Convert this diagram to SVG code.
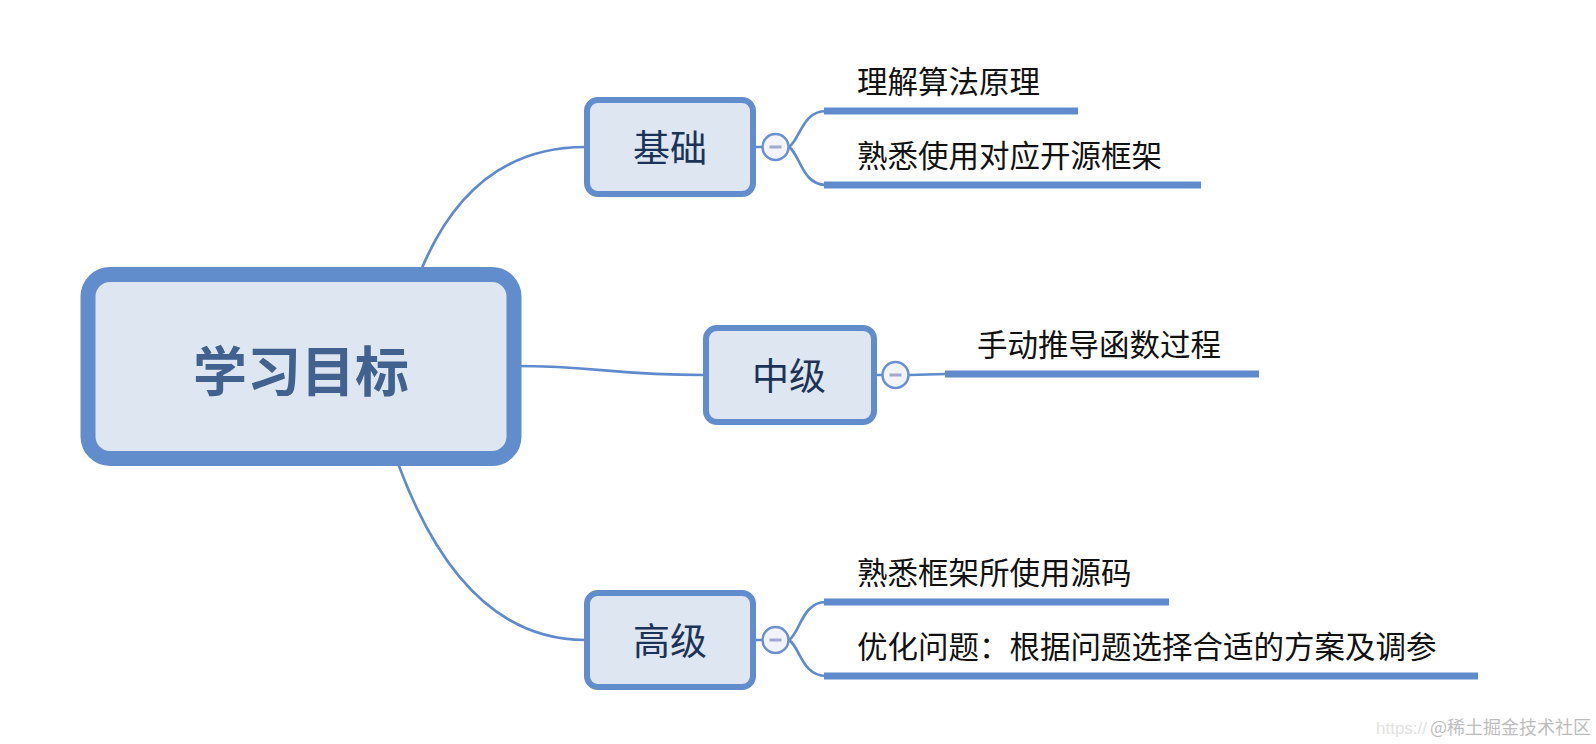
<svg xmlns="http://www.w3.org/2000/svg" width="1596" height="744" viewBox="0 0 1596 744">
<style>
.conn{fill:none;stroke:#5f8bcd;stroke-width:2.7;stroke-linecap:round}
.ul{stroke:#5f8bcd;stroke-width:7}
.box{fill:#dde6f1;stroke:#628dcc;stroke-width:6}
.btxt{font-family:"Noto Sans CJK SC","Noto Sans",sans-serif;font-size:37px;fill:#1c3358;text-anchor:middle;dominant-baseline:central}
.ltxt{font-family:"Noto Sans CJK SC","Noto Sans",sans-serif;font-size:30.5px;fill:#111111}
.tog circle{fill:#f3f4fa;stroke:#6a90cf;stroke-width:2.5}
.tog line{stroke:#a0a8d0;stroke-width:3}
</style>
<rect width="1596" height="744" fill="#ffffff"/>
<g id="connectors">
<path class="conn" d="M422 268 Q473 147 585 147"/>
<path class="conn" d="M514 366 C600 366 610 375 704 375"/>
<path class="conn" d="M399 466 Q464 640 585 640"/>
<line class="conn" x1="756" y1="147" x2="762" y2="147"/>
<line class="conn" x1="877" y1="375" x2="882" y2="375"/>
<line class="conn" x1="756" y1="640" x2="762" y2="640"/>
<path class="conn" d="M789 147 C800 140 802 111 826 111"/>
<path class="conn" d="M789 147 C800 154 802 185 826 185"/>
<path class="conn" d="M909 375 L946 374"/>
<path class="conn" d="M789 640 C800 633 802 602 826 602"/>
<path class="conn" d="M789 640 C800 647 802 676 826 676"/>
</g>
<g id="root">
<rect x="88" y="274.5" width="426" height="184" rx="22" fill="#dde6f1" stroke="#628dcc" stroke-width="15"/>
<text x="301" y="368" font-family="'Noto Sans CJK SC','Noto Sans',sans-serif" font-size="54" font-weight="bold" fill="#41628f" text-anchor="middle" dominant-baseline="central">学习目标</text>
</g>
<g id="node-jichu">
<rect class="box" x="587" y="100" width="166" height="94" rx="11"/>
<text class="btxt" x="670" y="146">基础</text>
<g class="tog"><circle cx="775.5" cy="147" r="13"/><line x1="769.5" y1="147" x2="781.5" y2="147"/></g>
</g>
<g id="leaf-1">
<line class="ul" x1="824" y1="111" x2="1078" y2="111"/>
<text class="ltxt" x="857" y="93">理解算法原理</text>
</g>
<g id="leaf-2">
<line class="ul" x1="824" y1="185" x2="1201" y2="185"/>
<text class="ltxt" x="857" y="167">熟悉使用对应开源框架</text>
</g>
<g id="node-zhongji">
<rect class="box" x="706" y="328" width="168" height="94" rx="11"/>
<text class="btxt" x="789" y="374">中级</text>
<g class="tog"><circle cx="895.5" cy="375" r="13"/><line x1="889.5" y1="375" x2="901.5" y2="375"/></g>
</g>
<g id="leaf-3">
<line class="ul" x1="945" y1="374" x2="1259" y2="374"/>
<text class="ltxt" x="977" y="356">手动推导函数过程</text>
</g>
<g id="node-gaoji">
<rect class="box" x="587" y="593" width="166" height="94" rx="11"/>
<text class="btxt" x="670" y="639">高级</text>
<g class="tog"><circle cx="775.5" cy="640" r="13"/><line x1="769.5" y1="640" x2="781.5" y2="640"/></g>
</g>
<g id="leaf-4">
<line class="ul" x1="824" y1="602" x2="1169" y2="602"/>
<text class="ltxt" x="857" y="584">熟悉框架所使用源码</text>
</g>
<g id="leaf-5">
<line class="ul" x1="824" y1="676" x2="1478" y2="676"/>
<text class="ltxt" x="857" y="658">优化问题：根据问题选择合适的方案及调参</text>
</g>
<g id="watermark">
<text x="1376" y="734" fill="#e2e2e2" font-family="'Liberation Sans',sans-serif" font-size="17">https://</text>
<text x="1430" y="734" fill="#bdbdbd" font-family="'Noto Sans CJK SC',sans-serif" font-size="18">@稀土掘金技术社区</text>
</g>
</svg>
